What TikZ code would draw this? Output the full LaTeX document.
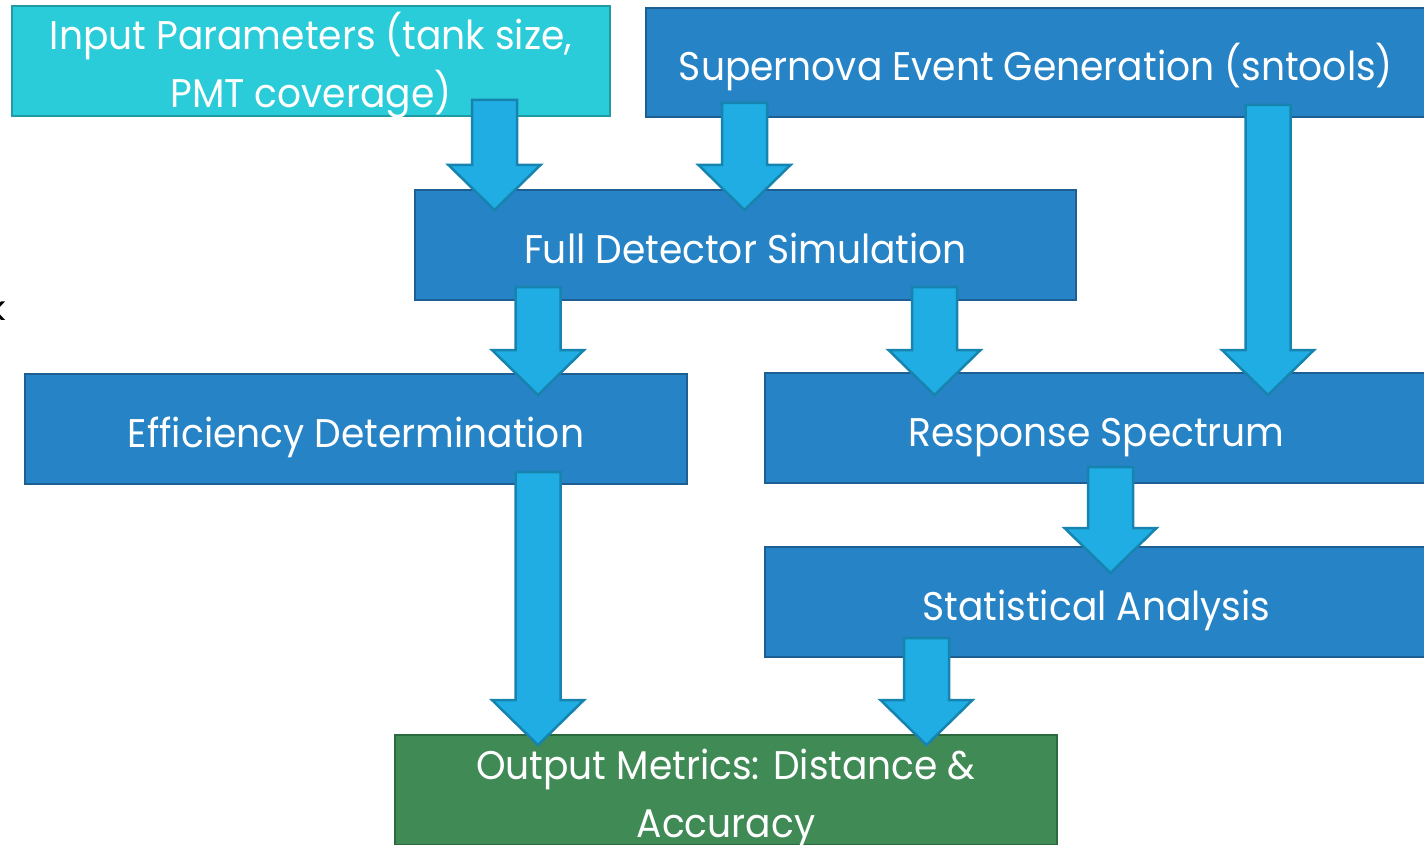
\documentclass[tikz,border=0pt]{standalone}
\usepackage{fontspec}
\setmainfont{Poppins}
\newfontfamily\boxfont[FakeStretch=0.94]{Poppins}
\usetikzlibrary{calc}

\definecolor{cyanfill}{HTML}{29CCD8}
\definecolor{cyanedge}{HTML}{1F9BA5}
\definecolor{bluefill}{HTML}{2683C6}
\definecolor{blueedge}{HTML}{1D5F92}
\definecolor{greenfill}{HTML}{3F8A55}
\definecolor{greenedge}{HTML}{2B6A3C}
\definecolor{arrowfill}{HTML}{1FADE3}
\definecolor{arrowedge}{HTML}{1684AE}

% block arrow pointing down from the start coordinate to the tip coordinate
\newcommand{\flowarrow}[2]{%
  \filldraw[flowarrow] let \p1=(#1), \p2=(#2) in
    (\x1-22.5pt,\y1) -- (\x1+22.5pt,\y1) -- (\x1+22.5pt,\y2+45pt)
    -- (\x1+46pt,\y2+45pt) -- (\x2,\y2) -- (\x1-46pt,\y2+45pt)
    -- (\x1-22.5pt,\y2+45pt) -- cycle;}

\begin{document}
\begin{tikzpicture}[x=1pt,y=-1pt,
  box/.style={rectangle, line width=2.5pt, text=white, align=center,
    inner sep=0pt, outer sep=0pt, text height=36pt, text depth=0pt,
    font=\boxfont\fontsize{40}{58}\selectfont},
  twolines/.style={text height=94pt, text depth=0pt},
  stage/.style={box, draw=blueedge, fill=bluefill},
  inputbox/.style={box, twolines, draw=cyanedge, fill=cyanfill},
  outputbox/.style={box, twolines, draw=greenedge, fill=greenfill},
  flowarrow/.style={draw=arrowedge, fill=arrowfill, line width=2.5pt,
    line join=miter}]
\useasboundingbox (0,0) rectangle (1424,845);
\clip (0,0) rectangle (1424,845);

% stages
\node[inputbox, minimum width=598pt, minimum height=110pt] (inp) at (311,61)
  {Input Parameters (tank size,\\PMT coverage)};
\node[stage, minimum width=780pt, minimum height=109pt] (sn) at (1036,62.5)
  {Supernova Event Generation (sntools)};
\node[stage, minimum width=661pt, minimum height=110pt] (fds) at (745.5,245)
  {Full Detector Simulation};
\node[stage, minimum width=662pt, minimum height=110pt] (eff) at (356,429)
  {Efficiency Determination};
\node[stage, minimum width=663pt, minimum height=110pt] (resp) at (1096.5,428)
  {Response Spectrum};
\node[stage, minimum width=663pt, minimum height=110pt] (stat) at (1096.5,602)
  {Statistical Analysis};
\node[outputbox, minimum width=662pt, minimum height=110pt] (out) at (726,790)
  {Output Metrics: Distance \&\\Accuracy};

% stray letter at the left edge
\node[anchor=base east, inner sep=0pt, font=\fontsize{34}{40}\selectfont] (edgek) at (6,320) {k};

% arrow ends
\coordinate (a1s) at (494.5,100);  \coordinate (a1t) at (494.5,210);
\coordinate (a2s) at (744.5,103);  \coordinate (a2t) at (744.5,210);
\coordinate (a3s) at (1268,105);   \coordinate (a3t) at (1268,395);
\coordinate (a4s) at (538,287);    \coordinate (a4t) at (538,395);
\coordinate (a5s) at (934.5,287);  \coordinate (a5t) at (934.5,395);
\coordinate (a6s) at (1110.5,467); \coordinate (a6t) at (1110.5,573);
\coordinate (a7s) at (538,472);    \coordinate (a7t) at (538,745);
\coordinate (a8s) at (926.5,638);  \coordinate (a8t) at (926.5,745);

% flow
\flowarrow{a1s}{a1t}
\flowarrow{a2s}{a2t}
\flowarrow{a3s}{a3t}
\flowarrow{a4s}{a4t}
\flowarrow{a5s}{a5t}
\flowarrow{a6s}{a6t}
\flowarrow{a7s}{a7t}
\flowarrow{a8s}{a8t}
\end{tikzpicture}
\end{document}
